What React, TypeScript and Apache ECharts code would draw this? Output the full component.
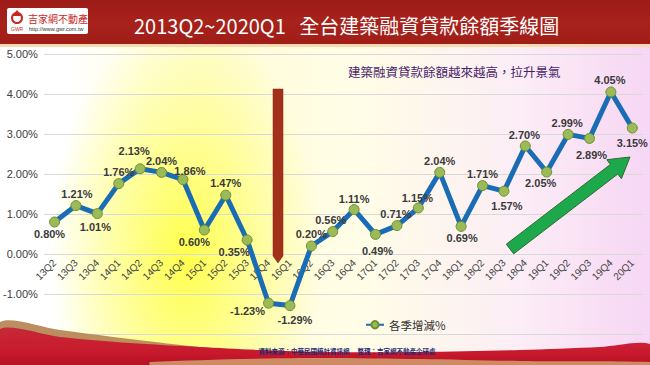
import React, { useEffect, useRef } from "react";
import * as echarts from "echarts";

const categories = [
  "13Q2", "13Q3", "13Q4", "14Q1", "14Q2", "14Q3", "14Q4", "15Q1", "15Q2", "15Q3",
  "15Q4", "16Q1", "16Q2", "16Q3", "16Q4", "17Q1", "17Q2", "17Q3", "17Q4", "18Q1",
  "18Q2", "18Q3", "18Q4", "19Q1", "19Q2", "19Q3", "19Q4", "20Q1",
];

const quarterlyChange = [
  0.80, 1.21, 1.01, 1.76, 2.13, 2.04, 1.86, 0.60, 1.47, 0.35,
  -1.23, -1.29, 0.20, 0.56, 1.11, 0.49, 0.71, 1.15, 2.04, 0.69,
  1.71, 1.57, 2.70, 2.05, 2.99, 2.89, 4.05, 3.15,
];

// label placement relative to each point (dx, dy)
const labelOffsets: [number, number][] = [
  [-5, 12], [1, -12], [-2, 13], [0, -12], [-6, -18], [0, -11], [7, -9], [-10, 12], [0, -12], [-13, 12],
  [-21, 8], [5, 14], [0, -12], [-2, -12], [0, -11], [2, 17], [-1, -12], [-1, -10], [0, -11], [1, 12],
  [0, -12], [3, 15], [-1, -11], [-6, 11], [-1, -11], [2, 17], [-1, -12], [0, 15],
];

const yMin = -2;
const yMax = 5;
const yStep = 1;

const titleText = "2013Q2~2020Q1   全台建築融資貸款餘額季線圖";
const noteText = "建築融資貸款餘額越來越高，拉升景氣";
const seriesName = "各季增減%";
const sourceText = "資料來源：中華民國統計資訊網　 整理：吉家網不動產企研處";

export default function App() {
  const ref = useRef<HTMLDivElement>(null);

  useEffect(() => {
    if (!ref.current) return;
    const chart = echarts.init(ref.current, null, { renderer: "svg" });

    const gridTop = 54;
    const gridBottom = 31;
    const plotH = 365 - gridTop - gridBottom;
    const zeroShift = -((0 - yMin) / (yMax - yMin)) * plotH;

    const option: any = {
      animation: false,
      backgroundColor: "transparent",
      grid: { left: 41, right: 7, top: gridTop, bottom: gridBottom, containLabel: false },
      legend: {
        show: true,
        left: 360,
        top: 314,
        itemWidth: 18,
        itemHeight: 9,
        itemGap: 4,
        textStyle: { fontSize: 11.5, color: "#333", fontFamily: "Noto Sans CJK TC" },
        data: [seriesName],
      },
      xAxis: {
        type: "category",
        data: categories,
        boundaryGap: true,
        offset: zeroShift,
        axisLine: { show: false, onZero: false },
        axisTick: { show: false },
        axisLabel: {
          rotate: 45,
          margin: 7,
          fontSize: 10,
          color: "#444",
          fontFamily: "Liberation Sans, Arial",
          interval: 0,
        },
        splitLine: { show: false },
      },
      yAxis: {
        type: "value",
        min: yMin,
        max: yMax,
        interval: yStep,
        axisLine: { show: false },
        axisTick: { show: false },
        axisLabel: {
          formatter: (v: number) => v.toFixed(2) + "%",
          fontSize: 11,
          color: "#404040",
          margin: 6,
          fontFamily: "Liberation Sans, Arial",
        },
        splitLine: { lineStyle: { color: "#d9d9d9", width: 1 } },
      },
      series: [
        {
          name: seriesName,
          type: "line",
          z: 3,
          data: quarterlyChange.map((v, i) => ({
            value: v,
            label: { offset: labelOffsets[i] },
          })),
          lineStyle: { color: "#1a6db5", width: 5 },
          itemStyle: { color: "#9bbb59", borderColor: "#6f8f2f", borderWidth: 1 },
          symbol: "circle",
          symbolSize: 10,
          label: {
            show: true,
            position: "inside",
            formatter: (p: any) => Number(p.value).toFixed(2) + "%",
            fontSize: 11,
            fontWeight: "bold",
            color: "#3a3a3a",
            fontFamily: "Liberation Sans, Arial",
          },
        },
      ],
      graphic: [
        // header
        {
          type: "rect",
          z: 50,
          shape: { x: 0, y: 0, width: 650, height: 44 },
          style: {
            fill: new echarts.graphic.LinearGradient(0, 0, 0, 1, [
              { offset: 0, color: "#9c1c17" },
              { offset: 0.5, color: "#a8221b" },
              { offset: 1, color: "#a01d18" },
            ]),
          },
        },
        {
          type: "rect",
          z: 50,
          shape: { x: 0, y: 44, width: 650, height: 3 },
          style: { fill: "#f8d9b0" },
        },
        {
          type: "rect",
          z: 51,
          shape: { x: 7, y: 8, width: 81, height: 26, r: 2 },
          style: { fill: "#ffffff" },
        },
        {
          type: "circle",
          z: 52,
          shape: { cx: 17, cy: 18, r: 5 },
          style: { fill: "none", stroke: "#c8281f", lineWidth: 2 },
        },
        {
          type: "polygon",
          z: 52,
          shape: { points: [[12, 16], [17, 10], [22, 16]] },
          style: { fill: "#c8281f" },
        },
        {
          type: "text",
          z: 52,
          x: 11,
          y: 29,
          style: { text: "GWR", fontSize: 5, fill: "#c8281f", fontFamily: "Liberation Sans", verticalAlign: "middle" },
        },
        {
          type: "text",
          z: 52,
          x: 28,
          y: 18,
          style: { text: "吉家網不動產", fontSize: 10, fill: "#c8281f", fontFamily: "Noto Sans CJK TC", verticalAlign: "middle" },
        },
        {
          type: "text",
          z: 52,
          x: 29,
          y: 29,
          style: { text: "http://www.gwr.com.tw", fontSize: 5.5, fill: "#333", fontFamily: "Liberation Sans", verticalAlign: "middle" },
        },
        {
          type: "text",
          z: 52,
          x: 134,
          y: 25,
          style: {
            text: titleText,
            fontSize: 20,
            fill: "#ffffff",
            fontFamily: "Noto Sans CJK TC",
            verticalAlign: "middle",
          },
        },
        // annotation
        {
          type: "text",
          z: 20,
          x: 348,
          y: 71,
          style: {
            text: noteText,
            fontSize: 12.5,
            fill: "#4a1d6b",
            fontFamily: "Noto Sans CJK TC",
            verticalAlign: "middle",
          },
        },
        // red down arrow
        {
          type: "polygon",
          z: 1,
          shape: { points: [[273, 89], [283, 89], [283, 256], [278, 263], [273, 256]] },
          style: { fill: "#a2301a", stroke: "#8a2614", lineWidth: 0.5 },
        },
        // green up arrow
        {
          type: "polygon",
          z: 1,
          shape: {
            points: [
              [513.7, 253.8], [617.8, 174.0], [621.4, 178.7], [630, 157],
              [606.8, 159.7], [610.4, 164.4], [506.3, 244.2],
            ],
          },
          style: { fill: "#1ea84c", stroke: "#2d6b2d", lineWidth: 1 },
        },
        // footer
        {
          type: "polygon",
          z: 60,
          shape: {
            points: [
              [0, 322], [60, 330], [130, 339], [200, 347], [270, 353], [330, 357],
              [420, 360], [520, 362], [650, 363], [650, 365], [0, 365],
            ],
            smooth: 0.3,
          },
          style: {
            fill: new echarts.graphic.LinearGradient(0, 0, 1, 0, [
              { offset: 0, color: "rgba(180,130,80,0.9)" },
              { offset: 0.5, color: "#c09060" },
              { offset: 1, color: "#d4b080" },
            ]),
          },
        },
        {
          type: "polygon",
          z: 61,
          shape: {
            points: [
              [0, 329], [60, 337], [130, 343], [200, 347], [260, 350], [330, 352],
              [420, 352], [520, 350], [600, 347], [650, 344], [650, 365], [0, 365],
            ],
            smooth: 0.3,
          },
          style: {
            fill: new echarts.graphic.LinearGradient(0, 0, 0, 1, [
              { offset: 0, color: "rgba(200,30,50,0.9)" },
              { offset: 0.6, color: "#c8182c" },
              { offset: 1, color: "#a8101f" },
            ]),
          },
        },
        {
          type: "polygon",
          z: 62,
          shape: {
            points: [
              [150, 362], [300, 358], [420, 359], [520, 361], [650, 362], [650, 365], [150, 365],
            ],
            smooth: 0.3,
          },
          style: { fill: "rgba(210,160,110,0.85)" },
        },
        {
          type: "text",
          z: 63,
          x: 347,
          y: 351,
          style: {
            text: sourceText,
            fontSize: 6.5,
            fontWeight: "bold",
            fill: "#1b2870",
            fontFamily: "Noto Sans CJK TC",
            align: "center",
            verticalAlign: "middle",
          },
        },
      ],
    };

    chart.setOption(option);
    return () => chart.dispose();
  }, []);

  return (
    <div
      style={{
        position: "fixed",
        left: 0,
        top: 0,
        width: 650,
        height: 365,
        background:
          "radial-gradient(ellipse 135px 240px at 185px 255px, rgba(255,255,70,0.95) 0%, rgba(255,255,110,0.75) 40%, rgba(255,255,200,0) 100%), linear-gradient(90deg, #ffffff 0%, #ffffff 10%, #fffcd6 32%, #fffde6 55%, #fcedf6 80%, #f6d6f4 100%)",
      }}
    >
      <div ref={ref} style={{ width: 650, height: 365 }} />
    </div>
  );
}
